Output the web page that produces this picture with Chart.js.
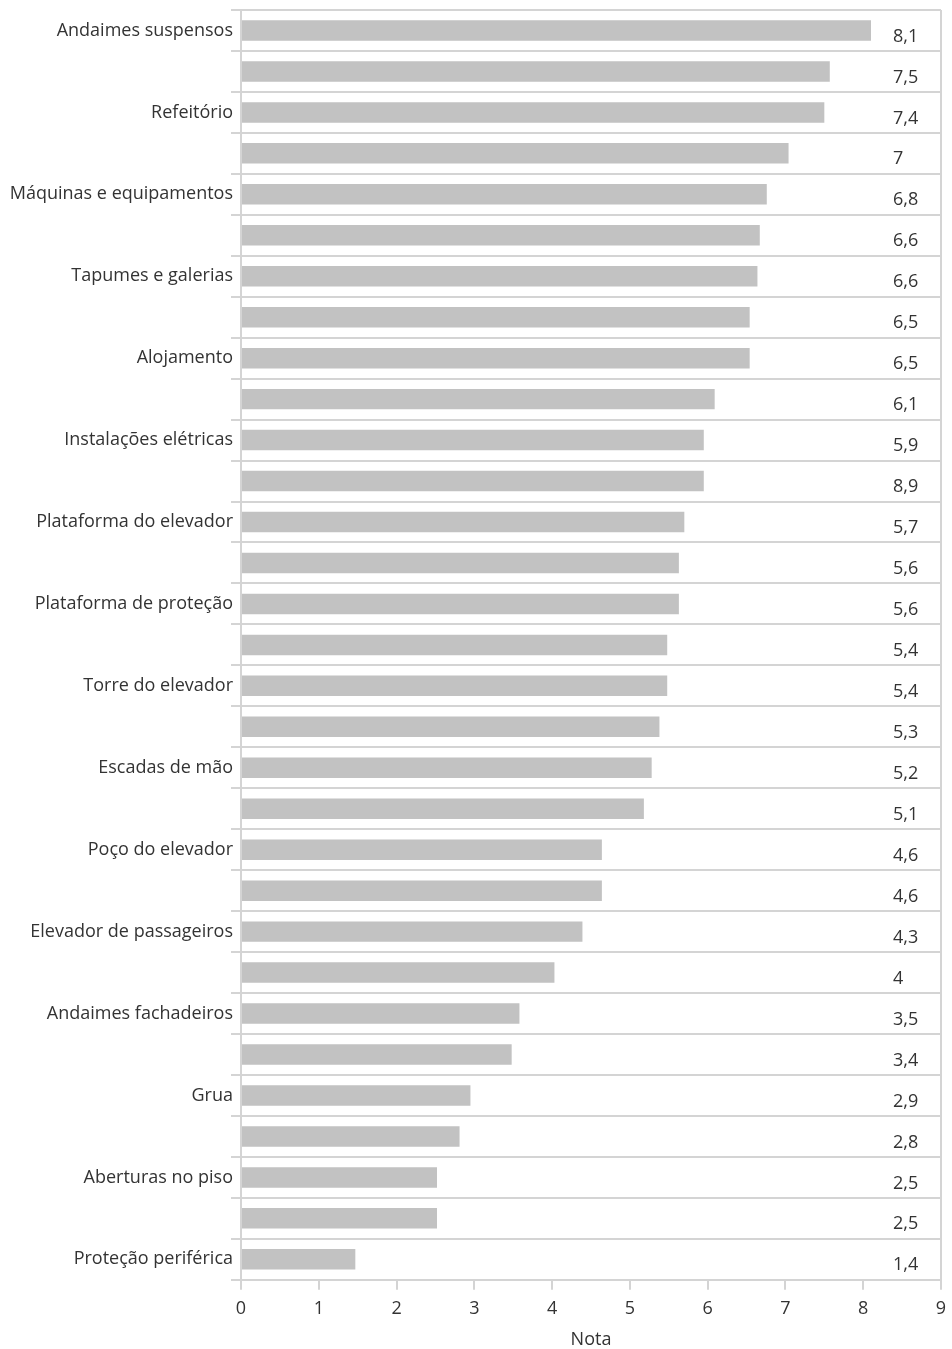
<!DOCTYPE html>
<html><head><meta charset="utf-8">
<script src="https://cdn.jsdelivr.net/npm/chart.js@4/dist/chart.umd.min.js"></script>
<style>html,body{margin:0;padding:0;background:#fff}#wrap{width:952px;height:1349px}</style>
</head><body><div id="wrap"><canvas id="c"></canvas></div>
<script>
const categories = ['Andaimes suspensos','','Refeitório','','Máquinas e equipamentos','','Tapumes e galerias','','Alojamento','','Instalações elétricas','','Plataforma do elevador','','Plataforma de proteção','','Torre do elevador','','Escadas de mão','','Poço do elevador','','Elevador de passageiros','','Andaimes fachadeiros','','Grua','','Aberturas no piso','','Proteção periférica'];
const values = [8.10,7.57,7.50,7.04,6.76,6.67,6.64,6.54,6.54,6.09,5.95,5.95,5.70,5.63,5.63,5.48,5.48,5.38,5.28,5.18,4.64,4.64,4.39,4.03,3.58,3.48,2.95,2.81,2.52,2.52,1.47];
const valueLabels = ['8,1','7,5','7,4','7','6,8','6,6','6,6','6,5','6,5','6,1','5,9','8,9','5,7','5,6','5,6','5,4','5,4','5,3','5,2','5,1','4,6','4,6','4,3','4','3,5','3,4','2,9','2,8','2,5','2,5','1,4'];
const xTicks = [0,1,2,3,4,5,6,7,8,9];
const xTitle = 'Nota';

const FONT = "'Open Sans', sans-serif";
const GRID = '#d4d4d4';
const TEXT = '#333333';

const labelPlugin = {
  id: 'valueLabels',
  afterDatasetsDraw(chart) {
    const ctx = chart.ctx, y = chart.scales.y, area = chart.chartArea;
    ctx.save();
    ctx.font = '18px ' + FONT;
    ctx.fillStyle = TEXT;
    ctx.textAlign = 'left';
    ctx.textBaseline = 'middle';
    valueLabels.forEach((t, i) => {
      ctx.fillText(t, area.right - 48, y.getPixelForValue(i) + 6);
    });
    ctx.restore();
  }
};

new Chart(document.getElementById('c'), {
  type: 'bar',
  data: { labels: categories, datasets: [{ data: values, backgroundColor: '#c2c2c2', borderWidth: 0, categoryPercentage: 1, barPercentage: 0.5 }] },
  options: {
    indexAxis: 'y', responsive: true, maintainAspectRatio: false, animation: false,
    layout: { padding: { top: 10, right: 11, left: 0, bottom: -2 } },
    plugins: { legend: { display: false }, tooltip: { enabled: false } },
    scales: {
      x: {
        min: 0, max: 9,
        afterBuildTicks: s => { s.ticks = xTicks.map(v => ({ value: v })); },
        afterFit: s => { s.paddingRight = 0; s.paddingLeft = 0; },
        grid: {
          drawOnChartArea: true, drawTicks: true, tickLength: 10, lineWidth: 2,
          color: c => (c.index === 0 || c.index === xTicks.length - 1) ? GRID : 'rgba(0,0,0,0)',
          tickColor: GRID
        },
        border: { display: true, color: GRID, width: 2 },
        ticks: { color: TEXT, font: { family: FONT, size: 18 }, padding: 8 },
        title: { display: true, text: xTitle, color: TEXT, font: { family: FONT, size: 18 }, padding: { top: 2, bottom: 0 } }
      },
      y: {
        afterFit: s => { s.width = 241; },
        grid: { offset: true, drawTicks: true, tickLength: 10, lineWidth: 2, color: GRID, tickColor: GRID },
        border: { display: true, color: GRID, width: 2 },
        ticks: { autoSkip: false, color: TEXT, font: { family: FONT, size: 18 }, padding: -2 }
      }
    }
  },
  plugins: [labelPlugin]
});
</script></body></html>
